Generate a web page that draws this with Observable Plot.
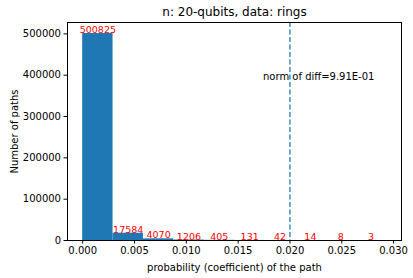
<!DOCTYPE html>
<html>
<head>
<meta charset="utf-8">
<script src="https://cdn.jsdelivr.net/npm/d3@7"></script>
<script src="https://cdn.jsdelivr.net/npm/@observablehq/plot@0.6"></script>
<style>
  html, body { margin: 0; padding: 0; background: white; }
</style>
</head>
<body>
<div id="chart"></div>
<script>
const binStart = [0.00000, 0.00293, 0.00586, 0.00879, 0.01172, 0.01465, 0.01758, 0.02051, 0.02344, 0.02637];
const binEnd   = [0.00293, 0.00586, 0.00879, 0.01172, 0.01465, 0.01758, 0.02051, 0.02344, 0.02637, 0.02930];
const counts   = [500825, 17584, 4070, 1206, 405, 131, 42, 14, 8, 3];
const xTicks = [0, 0.005, 0.010, 0.015, 0.020, 0.025, 0.030];
const yTicks = [0, 100000, 200000, 300000, 400000, 500000];
const threshold = [0.02];
const titleText = "n: 20-qubits, data: rings";
const noteText = "norm of diff=9.91E-01";

const bins = counts.map((c, i) => ({x1: binStart[i], x2: binEnd[i], count: c}));
const blue = "#1f77b4";

const chart = Plot.plot({
  width: 413,
  height: 278,
  marginLeft: 67,
  marginRight: 12,
  marginTop: 22,
  marginBottom: 38,
  style: {fontFamily: "DejaVu Sans", fontSize: "10px", background: "white", color: "black"},
  x: {domain: [-0.001465, 0.030765], ticks: xTicks, tickFormat: d3.format(".3f"), label: "probability (coefficient) of the path", labelAnchor: "center", labelArrow: "none", tickSize: 3.5, tickPadding: 3, labelOffset: 30},
  y: {domain: [0, 527500], ticks: yTicks, tickFormat: d3.format("d"), label: "Number of paths", labelAnchor: "center", labelArrow: "none", tickSize: 3.5, tickPadding: 3, labelOffset: 57},
  marks: [
    Plot.rectY(bins, {x1: "x1", x2: "x2", y: "count", fill: blue}),
    Plot.ruleX(threshold, {stroke: blue, strokeWidth: 1.5, strokeOpacity: 0.85, strokeDasharray: "5,2.5"}),
    Plot.text(bins, {x: d => (d.x1 + d.x2) / 2, y: "count", text: d => String(d.count), fill: "red", fontSize: 9.5, lineAnchor: "bottom", dy: -0.5}),
    Plot.text([noteText], {x: 0.0174, y: 395000, text: d => d, textAnchor: "start", lineAnchor: "middle", fontSize: 10, fill: "black"}),
    Plot.text([titleText], {frameAnchor: "top", dy: -10, text: d => d, fontSize: 12, lineAnchor: "middle", fill: "black"}),
    Plot.frame({stroke: "black", strokeWidth: 1})
  ]
});
document.getElementById("chart").appendChild(chart);
</script>
</body>
</html>
